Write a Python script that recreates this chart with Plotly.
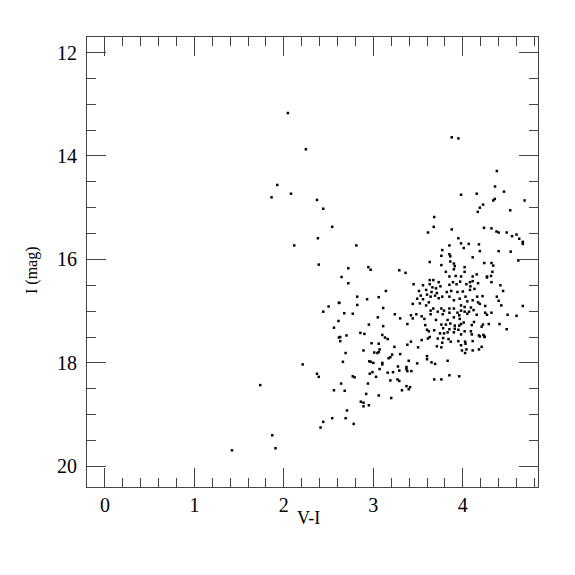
import plotly.graph_objects as go

# Colour (V-I) and magnitude (I) of each star
v_i = [
    2.045, 2.246, 1.926, 2.08, 1.862, 2.37, 2.44, 2.54, 2.38, 2.116, 2.39,
    2.615, 2.50, 2.44, 2.61, 2.56, 2.615, 2.21, 2.37, 2.39, 1.736, 2.56, 2.54, 2.44, 2.41, 1.87, 1.907, 1.42,
    3.68, 3.675,
    3.876, 3.95, 4.38, 4.36, 4.46, 3.98, 4.155, 4.357, 4.34, 4.69, 4.226, 4.19, 4.167, 4.53, 3.876, 4.237, 4.32,
    2.81, 2.72, 2.944, 2.97, 2.645, 3.29, 3.36, 2.72, 3.14, 2.82, 3.06, 2.93, 2.62, 2.82, 3.11,
    3.61, 3.95, 3.85, 3.98, 4.01, 4.066, 4.18, 3.77, 4.11, 3.85, 3.76, 3.86, 3.63, 3.86, 3.90, 3.76, 3.91,
    3.90, 4.02, 4.02, 3.81, 3.85, 3.92, 3.98, 4.11, 4.155, 3.67, 3.63, 3.73, 3.89, 3.97, 4.08, 4.11, 3.45,
    3.555, 3.63, 3.75, 3.85, 3.93, 4.04, 4.085, 4.17, 3.66, 3.70, 3.51, 3.59, 3.65, 3.71, 3.82, 3.87, 3.94,
    4.00, 4.08, 4.13, 3.49, 3.53, 3.555, 3.60, 3.64, 3.69, 3.73, 3.77, 3.85, 3.90, 3.965, 4.03, 4.05, 4.11,
    4.16, 4.17, 3.52, 3.59, 3.67, 3.76, 3.85, 3.90, 3.98, 4.02, 4.09, 3.44, 3.62,
    4.376, 4.40, 4.49, 4.60, 4.55, 4.63, 4.67, 4.67, 4.19, 4.40, 4.535, 4.62, 4.24, 4.32, 4.34, 4.33, 4.27,
    4.27, 4.315, 4.32, 4.42, 4.45, 4.22, 4.38, 4.40, 4.19, 4.25, 4.43, 4.67,
    2.675, 2.77, 3.05, 3.24, 3.30, 2.95, 3.11, 3.38, 2.855, 2.90, 2.70, 2.63, 3.10, 3.13, 3.16, 2.63, 2.98,
    3.06, 3.235, 3.38, 3.07, 3.06, 2.89, 3.01, 3.045, 3.21, 3.30, 2.69, 3.17, 3.19, 2.955, 2.97, 3.00, 3.10,
    3.10, 2.66, 3.275, 3.395, 3.07, 3.29, 2.99, 2.96, 3.16, 3.22, 3.37, 3.37, 3.38, 3.03, 2.77, 2.79, 3.19,
    3.27, 3.29, 2.94, 2.64, 3.37, 3.395,
    3.42, 3.48, 3.54, 3.57, 3.44, 3.64, 3.64, 3.72, 3.775, 3.79, 3.85, 3.90, 3.94, 3.98, 3.96, 4.02, 4.05,
    4.07, 4.12, 4.155, 3.70, 3.83, 3.965, 4.01, 3.86, 3.81, 3.76, 3.91, 3.96, 3.98, 4.10, 3.58, 4.125, 3.60,
    3.62, 3.68, 3.78, 3.85, 3.91, 3.95, 4.02, 4.09, 4.10, 3.745, 3.79, 3.83, 3.90, 3.98, 4.18, 3.61, 3.63,
    3.72, 3.78, 3.84, 3.865, 3.95, 4.025, 4.11, 3.42, 3.54, 3.77, 4.03, 3.71, 3.50, 3.76, 3.98, 4.04, 4.18,
    3.99, 4.025, 4.11, 3.60, 3.60, 3.83, 3.49, 3.65, 3.69, 3.425, 3.68, 3.76, 3.85, 3.96, 3.41,
    4.25, 4.27, 4.32, 4.50, 4.60, 4.225, 4.21, 4.29, 4.41, 4.49, 4.23, 4.24, 4.245, 4.19, 4.21,
    2.68, 2.92, 3.06, 3.32, 3.20, 2.86, 2.89, 2.89, 2.95, 2.705, 2.69, 2.78,
]
i_mag = [
    13.17, 13.87, 14.56, 14.73, 14.80, 14.85, 15.02, 15.37, 15.59, 15.73, 16.10,
    16.84, 16.91, 17.01, 17.19, 17.32, 17.51, 18.03, 18.21, 18.27, 18.43, 18.53, 19.07, 19.14, 19.25, 19.40, 19.65, 19.69,
    15.18, 15.37,
    13.64, 13.66, 14.29, 14.59, 14.69, 14.75, 14.73, 14.83, 14.86, 14.86, 14.94, 15.00, 15.08, 15.05, 15.42, 15.39, 15.40,
    15.73, 16.17, 16.15, 16.20, 16.34, 16.21, 16.26, 16.46, 16.61, 16.72, 16.73, 16.77, 16.84, 16.88, 16.94,
    15.48, 15.59, 15.73, 15.69, 15.78, 15.70, 15.71, 15.82, 15.96, 15.90, 15.93, 15.94, 16.05, 16.04, 16.08, 16.11, 16.13,
    16.19, 16.15, 16.24, 16.24, 16.33, 16.32, 16.33, 16.33, 16.29, 16.40, 16.40, 16.44, 16.44, 16.43, 16.44, 16.42, 16.48,
    16.50, 16.48, 16.52, 16.49, 16.48, 16.48, 16.52, 16.46, 16.54, 16.56, 16.61, 16.59, 16.63, 16.65, 16.63, 16.61, 16.63,
    16.62, 16.59, 16.57, 16.76, 16.70, 16.77, 16.68, 16.72, 16.70, 16.75, 16.72, 16.72, 16.79, 16.76, 16.72, 16.81, 16.79,
    16.72, 16.83, 16.85, 16.89, 16.95, 16.95, 16.95, 16.95, 16.89, 16.92, 16.93, 16.86, 16.83,
    15.46, 15.48, 15.48, 15.52, 15.55, 15.60, 15.66, 15.70, 15.84, 15.84, 15.85, 16.02, 16.07, 16.07, 16.12, 16.24, 16.33,
    16.35, 16.32, 16.44, 16.50, 16.61, 16.71, 16.72, 16.80, 16.86, 16.90, 16.89, 16.90,
    17.04, 17.05, 17.12, 17.06, 17.14, 17.26, 17.29, 17.25, 17.42, 17.44, 17.47, 17.50, 17.46, 17.51, 17.54, 17.58, 17.62,
    17.63, 17.69, 17.65, 17.74, 17.79, 17.76, 17.80, 17.81, 17.84, 17.83, 17.81, 17.91, 17.89, 17.97, 17.98, 18.00, 18.00,
    18.03, 17.98, 18.07, 17.96, 18.12, 18.15, 18.18, 18.21, 18.19, 18.18, 18.08, 18.12, 18.16, 18.27, 18.26, 18.28, 18.34,
    18.32, 18.35, 18.40, 18.40, 18.45, 18.51,
    17.08, 17.06, 17.10, 17.15, 17.14, 16.99, 17.06, 17.01, 17.06, 16.99, 17.03, 17.12, 17.03, 16.99, 17.08, 17.01, 17.05,
    17.01, 16.98, 17.07, 17.17, 17.17, 17.15, 17.22, 17.24, 17.26, 17.26, 17.28, 17.28, 17.25, 17.27, 17.27, 17.21, 17.36,
    17.39, 17.37, 17.33, 17.35, 17.34, 17.36, 17.39, 17.39, 17.45, 17.43, 17.43, 17.41, 17.41, 17.45, 17.47, 17.53, 17.50,
    17.53, 17.52, 17.54, 17.59, 17.58, 17.59, 17.58, 17.59, 17.56, 17.61, 17.63, 17.68, 17.70, 17.70, 17.66, 17.74, 17.74,
    17.76, 17.81, 17.76, 17.87, 17.93, 17.96, 18.01, 17.99, 18.02, 18.16, 18.32, 18.32, 18.24, 18.26, 18.47,
    17.03, 17.07, 17.03, 17.07, 17.09, 17.26, 17.30, 17.25, 17.25, 17.35, 17.46, 17.49, 17.50, 17.49, 17.69,
    18.54, 18.60, 18.63, 18.53, 18.68, 18.75, 18.77, 18.84, 18.82, 18.92, 19.07, 19.18,
]

x_ticks = [0, 1, 2, 3, 4]
y_ticks = [12, 14, 16, 18, 20]
x_title = "V-I"
y_title = "I (mag)"

AX = "#444444"
FONT = "Liberation Serif"

fig = go.Figure(go.Scatter(
    x=v_i, y=i_mag, mode="markers",
    marker=dict(symbol="square", size=2.5, color="black", line=dict(width=0)),
    hoverinfo="x+y",
))

common = dict(
    showgrid=False, zeroline=False, showline=True, linecolor=AX, linewidth=1.2,
    mirror="allticks", ticks="inside", ticklen=19, tickwidth=1.2, tickcolor=AX,
    tickfont=dict(family=FONT, size=20, color="black"),
)

fig.update_xaxes(
    range=[-0.2, 4.84], tickvals=x_ticks,
    minor=dict(dtick=0.2, tick0=0, ticks="inside", ticklen=9, tickwidth=1.2, tickcolor=AX, showgrid=False),
    **common,
)
fig.update_yaxes(
    range=[20.4, 11.7], tickvals=y_ticks, ticklabelstandoff=5,
    minor=dict(dtick=0.5, tick0=0, ticks="inside", ticklen=9, tickwidth=1.2, tickcolor=AX, showgrid=False),
    **common,
)

fig.update_layout(
    width=575, height=575,
    margin=dict(l=79, r=45, t=29, b=96),
    paper_bgcolor="white", plot_bgcolor="white",
    showlegend=False,
    annotations=[
        dict(text=x_title, xref="paper", yref="paper", x=0.5, y=0, xanchor="center",
             yanchor="middle", xshift=-4, yshift=-31, showarrow=False,
             font=dict(family=FONT, size=18, color="black")),
        dict(text=y_title, xref="paper", yref="paper", x=0, y=0.5, xanchor="center",
             yanchor="middle", xshift=-55, yshift=-8, textangle=-90, showarrow=False,
             font=dict(family=FONT, size=16, color="black")),
    ],
)

fig.write_html("out.html")
